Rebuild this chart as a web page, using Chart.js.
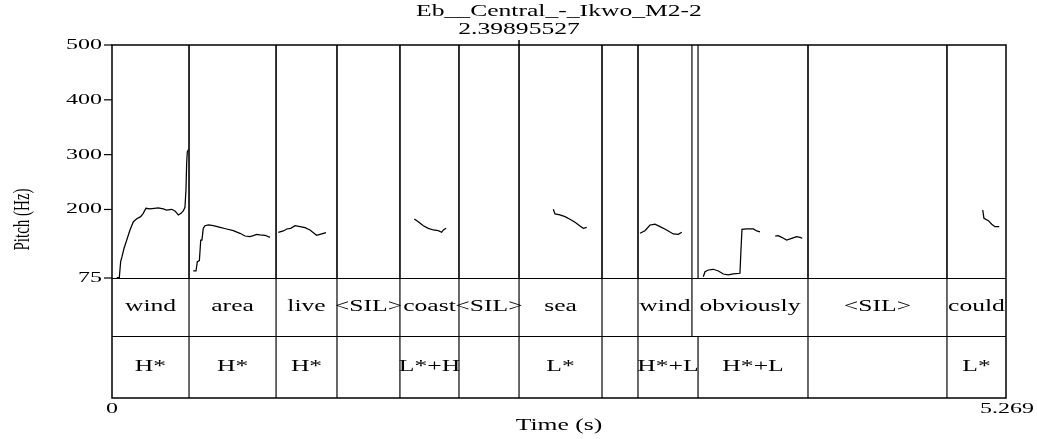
<!DOCTYPE html>
<html>
<head>
<meta charset="utf-8">
<script src="https://cdn.jsdelivr.net/npm/chart.js@4/dist/chart.umd.min.js"></script>
<style>
  html, body { margin: 0; padding: 0; background: #fff; }
  #wrap { width: 1037px; height: 439px; }
</style>
</head>
<body>
<div id="wrap"><canvas id="c" width="1037" height="439"></canvas></div>
<script>
// ---- Data ----
const titleText = "Eb__Central_-_Ikwo_M2-2";
const cursorTime = 2.39895527;
const timeMin = 0;
const timeMax = 5.269;
const pitchTicks = [75, 200, 300, 400, 500];

// Tier 1 (words)
const tier1Labels = ["wind", "area", "live", "<SIL>", "coast", "<SIL>", "sea", "", "wind", "obviously", "<SIL>", "could"];
const tier1Bounds = [0, 0.454, 0.967, 1.326, 1.697, 2.045, 2.399, 2.888, 3.100, 3.418, 4.102, 4.921, 5.269];
// Tier 2 (tones)
const tier2Labels = ["H*", "H*", "H*", "", "L*+H", "", "L*", "", "H*+L", "H*+L", "", "L*"];
const tier2Bounds = [0, 0.454, 0.967, 1.326, 1.697, 2.045, 2.399, 2.888, 3.100, 3.454, 4.102, 4.921, 5.269];

// Pitch contour pieces [time (s), pitch (Hz)]
const pitchWind1 = [[0.028,75.5],[0.043,75.5],[0.051,104.7],[0.059,113.9],[0.071,129.2],[0.087,144.3],[0.106,162.6],[0.126,177.7],[0.146,183.2],[0.169,186.9],[0.184,193],[0.200,202.2],[0.224,200.9],[0.273,202.7],[0.302,200.9],[0.322,199],[0.352,200.3],[0.371,197.3],[0.391,190],[0.407,193],[0.420,197.3],[0.430,204],[0.436,235.6],[0.440,284.3],[0.444,305.4],[0.452,309.8]];
const pitchArea = [[0.479,87.8],[0.495,87.8],[0.503,104.7],[0.515,106.6],[0.523,144.3],[0.530,144.3],[0.538,165.6],[0.548,170.4],[0.568,171.7],[0.597,170.4],[0.637,167.5],[0.676,164.4],[0.715,161.3],[0.754,156.5],[0.784,151.6],[0.813,150.4],[0.833,152.2],[0.853,154.7],[0.872,153.5],[0.902,152.9],[0.921,150.4],[0.931,149.2]];
const pitchLive = [[0.980,158.4],[1.010,160.8],[1.030,164.4],[1.053,165.6],[1.079,170.4],[1.108,168.6],[1.138,166.8],[1.167,162.6],[1.187,157.7],[1.206,152.9],[1.226,154.7],[1.261,157.7]];
const pitchCoast = [[1.782,182.7],[1.805,177.7],[1.835,170.4],[1.864,165.6],[1.894,162.6],[1.923,161.3],[1.943,158.4],[1.953,162.6],[1.969,165.6]];
const pitchSea = [[2.601,200.3],[2.611,191.8],[2.640,190],[2.670,186.9],[2.699,182.1],[2.729,176.6],[2.758,169.9],[2.778,165.6],[2.798,167.5]];
const pitchWind2 = [[3.112,156.5],[3.141,161.3],[3.171,171.7],[3.200,173],[3.230,168.6],[3.269,162.6],[3.308,155.3],[3.338,154.7],[3.358,158.4]];
const pitchObviously1 = [[3.485,77.4],[3.495,86.5],[3.515,89.6],[3.544,90.9],[3.574,87.8],[3.603,82.3],[3.632,80.5],[3.662,82.3],[3.701,83.6],[3.707,126.1],[3.713,163.8],[3.741,164.4],[3.780,164.4],[3.800,160.8],[3.819,159]];
const pitchObviously2 = [[3.908,151.6],[3.927,152.2],[3.947,149.2],[3.976,144.3],[4.006,147.4],[4.035,150.4],[4.055,149.2],[4.068,147.4]];
const pitchCould = [[5.132,199],[5.139,183.9],[5.165,179.6],[5.185,173],[5.204,168.6],[5.229,168.6]];

// ---- Layout / style ----
const PITCH_TOP = 500, TIER_TOP = 75, TIER_MID = -30.8, TIER_BOTTOM = -143.9;
const SX = 1.6; // horizontal stretch of the lettering in the reference
const FONT = '"Liberation Serif", "Times New Roman", serif';

const toPts = arr => arr.map(p => ({ x: p[0], y: p[1] }));
const pitchPieces = [pitchWind1, pitchArea, pitchLive, pitchCoast, pitchSea, pitchWind2, pitchObviously1, pitchObviously2, pitchCould];

function boundaryLines(bounds, segments) {
  const pts = [];
  bounds.slice(1, -1).forEach(t => {
    segments.forEach(([a, b]) => {
      pts.push({ x: t, y: a }, { x: t, y: b }, { x: t, y: null });
    });
  });
  return pts;
}

const datasets = [];
datasets.push({
  data: boundaryLines(tier1Bounds, [[PITCH_TOP, TIER_MID]]),
  borderColor: '#111', borderWidth: 1.25, pointRadius: 0, spanGaps: false
});
datasets.push({
  data: boundaryLines(tier2Bounds, [[PITCH_TOP, TIER_TOP], [TIER_MID, TIER_BOTTOM]]),
  borderColor: '#111', borderWidth: 1.25, pointRadius: 0, spanGaps: false
});
pitchPieces.forEach(p => datasets.push({
  data: toPts(p), borderColor: '#000', borderWidth: 1.25, pointRadius: 0, tension: 0
}));

function stretchText(ctx, text, x, y, align, size) {
  ctx.save();
  ctx.font = size + 'px ' + FONT;
  ctx.textAlign = align;
  ctx.textBaseline = 'middle';
  ctx.fillStyle = '#000';
  ctx.translate(x, y);
  ctx.scale(SX, 1);
  ctx.fillText(text, 0, 0);
  ctx.restore();
}

const praatPlugin = {
  id: 'praat',
  afterDatasetsDraw(chart) {
    const { ctx, chartArea: a, scales: { x, y } } = chart;
    ctx.save();
    ctx.strokeStyle = '#000';
    ctx.lineWidth = 1.5;
    ctx.strokeRect(a.left, a.top, a.right - a.left, a.bottom - a.top);
    // tier separators
    ctx.lineWidth = 1.2;
    [TIER_TOP, TIER_MID].forEach(v => {
      const py = Math.round(y.getPixelForValue(v)) + 0.5;
      ctx.beginPath(); ctx.moveTo(a.left, py); ctx.lineTo(a.right, py); ctx.stroke();
    });
    // y ticks
    pitchTicks.forEach(v => {
      const py = y.getPixelForValue(v);
      ctx.beginPath(); ctx.moveTo(a.left - 8, py); ctx.lineTo(a.left, py); ctx.stroke();
      stretchText(ctx, String(v), a.left - 10, py, 'right', 15);
    });
    // cursor tick at the top
    const cx = x.getPixelForValue(cursorTime);
    ctx.lineWidth = 1.5;
    ctx.beginPath(); ctx.moveTo(cx, a.top - 5); ctx.lineTo(cx, a.top); ctx.stroke();
    ctx.restore();

    // tier labels
    const y1 = (y.getPixelForValue(TIER_TOP) + y.getPixelForValue(TIER_MID)) / 2;
    const y2 = (y.getPixelForValue(TIER_MID) + y.getPixelForValue(TIER_BOTTOM)) / 2;
    tier1Labels.forEach((lab, i) => {
      if (!lab) return;
      const mx = (x.getPixelForValue(tier1Bounds[i]) + x.getPixelForValue(tier1Bounds[i + 1])) / 2;
      stretchText(ctx, lab, mx, y1, 'center', 16);
    });
    tier2Labels.forEach((lab, i) => {
      if (!lab) return;
      const mx = (x.getPixelForValue(tier2Bounds[i]) + x.getPixelForValue(tier2Bounds[i + 1])) / 2;
      stretchText(ctx, lab, mx, y2, 'center', 16);
    });

    // titles
    const mid = (a.left + a.right) / 2;
    stretchText(ctx, titleText, mid, 12, 'center', 16);
    stretchText(ctx, cursorTime.toFixed(8), cx, 30, 'center', 16);

    // x axis labels
    stretchText(ctx, String(timeMin), x.getPixelForValue(timeMin), a.bottom + 11, 'center', 15);
    stretchText(ctx, timeMax.toFixed(3), x.getPixelForValue(timeMax) + 1, a.bottom + 11, 'center', 15);
    stretchText(ctx, 'Time (s)', mid, a.bottom + 28, 'center', 16);

    // y axis title (rotated)
    ctx.save();
    ctx.font = '15px ' + FONT;
    ctx.textAlign = 'center';
    ctx.textBaseline = 'middle';
    ctx.fillStyle = '#000';
    ctx.translate(23, (y.getPixelForValue(PITCH_TOP) + y.getPixelForValue(TIER_TOP)) / 2 + 58);
    ctx.rotate(-Math.PI / 2);
    ctx.scale(1, SX);
    ctx.fillText('Pitch (Hz)', 0, 0);
    ctx.restore();
  }
};

new Chart(document.getElementById('c'), {
  type: 'line',
  data: { datasets },
  options: {
    responsive: false,
    animation: false,
    events: [],
    layout: { padding: { left: 112, right: 31, top: 45, bottom: 41 } },
    plugins: { legend: { display: false }, tooltip: { enabled: false }, title: { display: false } },
    elements: { line: { tension: 0 } },
    scales: {
      x: { type: 'linear', min: timeMin, max: timeMax, display: false },
      y: { type: 'linear', min: TIER_BOTTOM, max: PITCH_TOP, display: false }
    }
  },
  plugins: [praatPlugin]
});
</script>
</body>
</html>
